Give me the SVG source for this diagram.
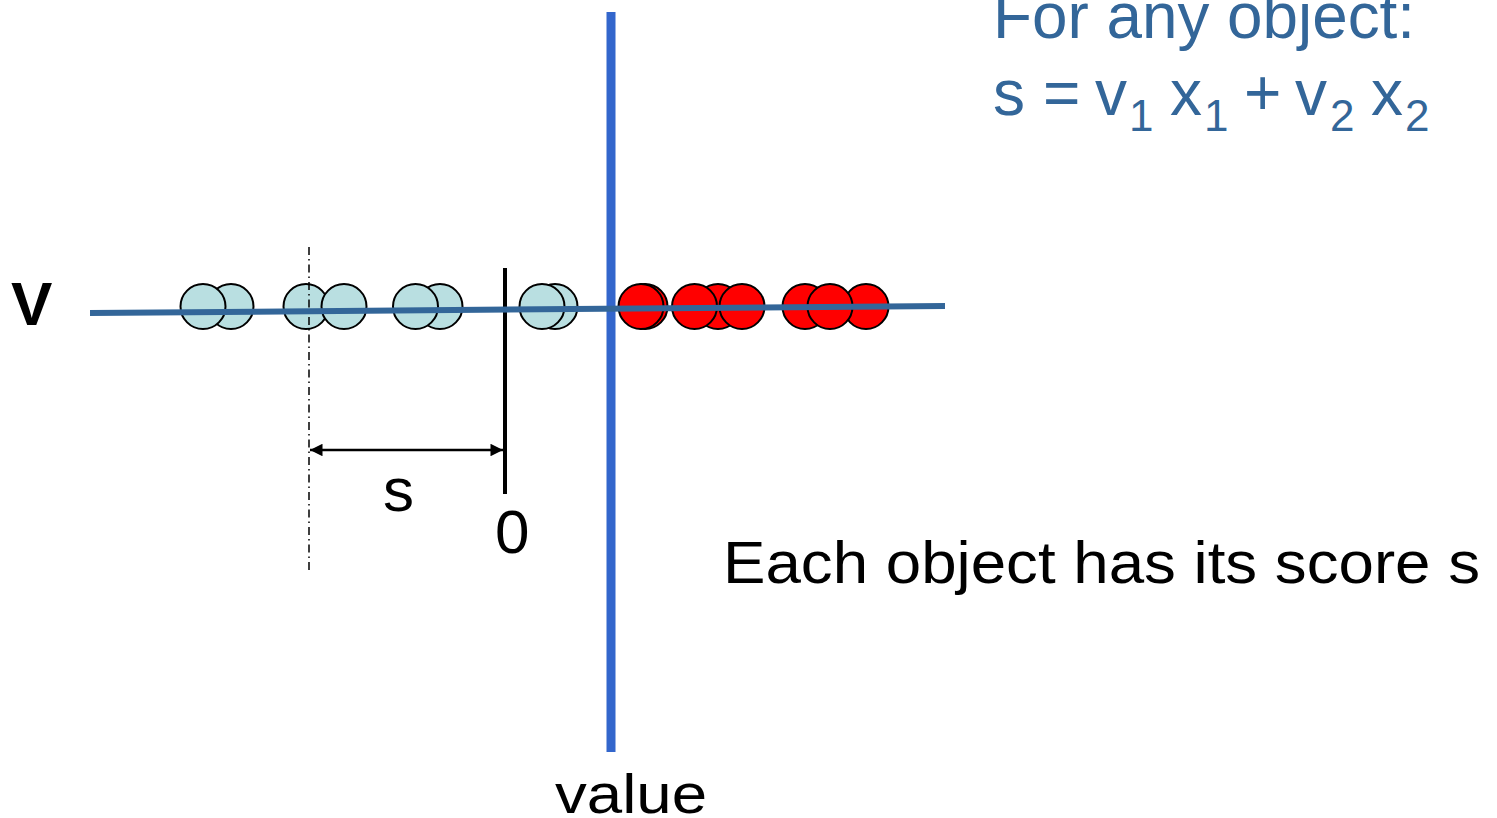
<svg xmlns="http://www.w3.org/2000/svg" width="1497" height="818" viewBox="0 0 1497 818">
<style>
.lb{fill:#b9dfe1;stroke:#000;stroke-width:2}
.rd{fill:#ff0000;stroke:#000;stroke-width:2}
.t{font-family:"Liberation Sans",Arial,sans-serif;fill:#000}
.bt{font-family:"Liberation Sans",Arial,sans-serif;fill:#336699}
.sb{font-size:44px}
</style>
<defs>
<marker id="ah" viewBox="0 0 10 10" refX="10" refY="5" markerWidth="6" markerHeight="5" orient="auto-start-reverse" markerUnits="strokeWidth">
<path d="M0,0 L10,5 L0,10 z" fill="#000"/>
</marker>
</defs>
<rect width="1497" height="818" fill="#fff"/>
<g id="objects-blue">
<circle class="lb" cx="231" cy="306.5" r="22.5"/>
<circle class="lb" cx="203" cy="306.5" r="22.5"/>
<circle class="lb" cx="306" cy="306.5" r="22.5"/>
<circle class="lb" cx="344" cy="306.5" r="22.5"/>
<circle class="lb" cx="440" cy="306.5" r="22.5"/>
<circle class="lb" cx="415.5" cy="306.5" r="22.5"/>
<circle class="lb" cx="555" cy="306.5" r="22.5"/>
<circle class="lb" cx="542" cy="306.5" r="22.5"/>
</g>
<g id="objects-red">
<circle class="rd" cx="645" cy="306.5" r="22.5"/>
<circle class="rd" cx="641" cy="306.5" r="22.5"/>
<circle class="rd" cx="718" cy="306.5" r="22.5"/>
<circle class="rd" cx="694.5" cy="306.5" r="22.5"/>
<circle class="rd" cx="742" cy="306.5" r="22.5"/>
<circle class="rd" cx="805" cy="306.5" r="22.5"/>
<circle class="rd" cx="866" cy="306.5" r="22.5"/>
<circle class="rd" cx="830" cy="306.5" r="22.5"/>
</g>
<g id="connectors">
<line x1="309" y1="247" x2="309" y2="571" stroke="#000" stroke-width="1.5" stroke-dasharray="8,4,1.5,4"/>
<line x1="505" y1="268" x2="505" y2="494" stroke="#000" stroke-width="4"/>
<line x1="611" y1="12" x2="611" y2="752" stroke="#3366cc" stroke-width="9"/>
<line x1="90" y1="313" x2="945" y2="306" stroke="#336699" stroke-width="6"/>
<line x1="310" y1="450" x2="503" y2="450" stroke="#000" stroke-width="2.5" marker-start="url(#ah)" marker-end="url(#ah)"/>
</g>
<g id="labels">
<text class="t" x="11" y="325" font-size="62" font-weight="bold">V</text>
<text class="t" x="383" y="511" font-size="62">s</text>
<text class="t" x="495" y="553" font-size="62">0</text>
<text class="t" x="723" y="583" font-size="60" textLength="757" lengthAdjust="spacingAndGlyphs">Each object has its score s</text>
<text class="t" x="555" y="813" font-size="56" textLength="152" lengthAdjust="spacingAndGlyphs">value</text>
</g>
<g id="formula">
<text class="bt" x="993" y="38" font-size="64" textLength="422" lengthAdjust="spacingAndGlyphs">For any object:</text>
<text class="bt" y="115" font-size="64"><tspan x="993">s</tspan><tspan x="1043">=</tspan><tspan x="1095">v</tspan><tspan class="sb" x="1129" y="131">1</tspan><tspan x="1170" y="115">x</tspan><tspan class="sb" x="1204" y="131">1</tspan><tspan x="1244" y="115">+</tspan><tspan x="1295">v</tspan><tspan class="sb" x="1330" y="131">2</tspan><tspan x="1371" y="115">x</tspan><tspan class="sb" x="1405" y="131">2</tspan></text>
</g>
</svg>
